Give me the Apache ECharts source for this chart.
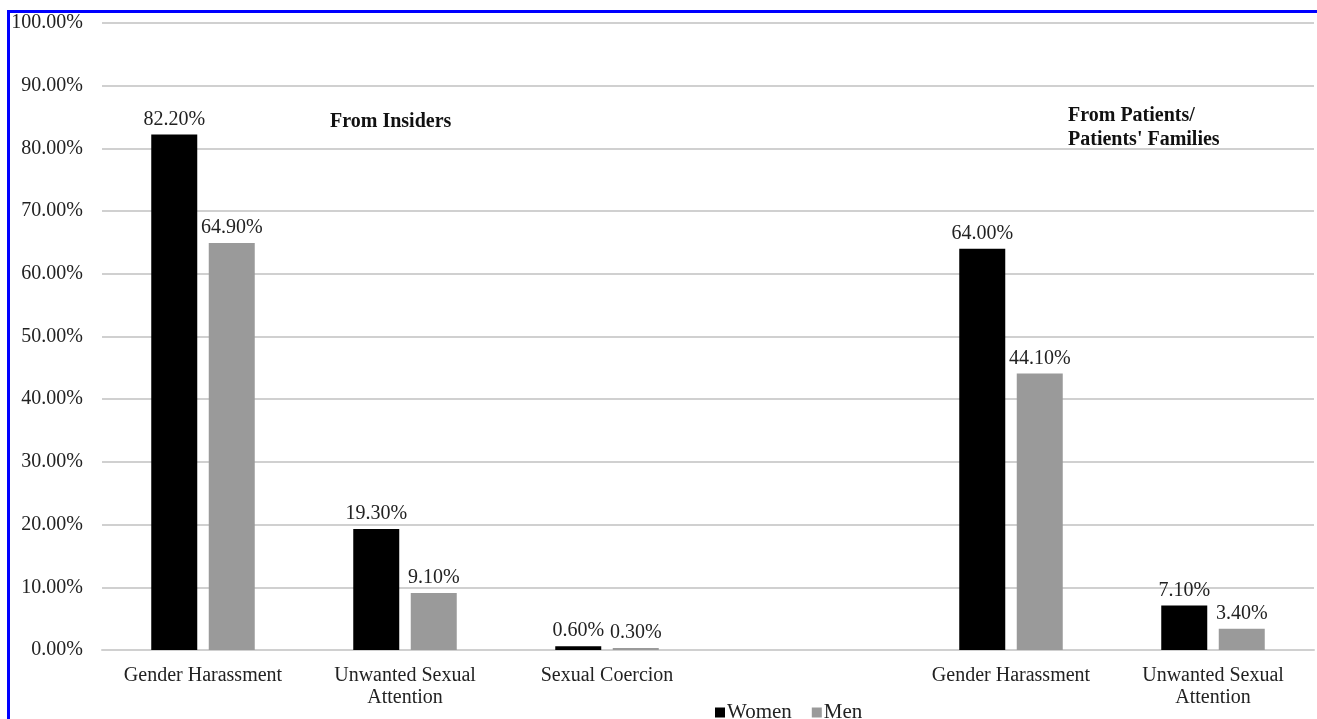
<!DOCTYPE html>
<html>
<head>
<meta charset="utf-8">
<script src="https://cdn.jsdelivr.net/npm/echarts@6/dist/echarts.min.js"></script>
<style>
html,body{margin:0;padding:0;background:#fff;}
#c{width:1317px;height:719px;}
</style>
</head>
<body>
<div id="c"></div>
<script>
var categories = ['Gender Harassment', 'Unwanted Sexual\nAttention', 'Sexual Coercion', '', 'Gender Harassment', 'Unwanted Sexual\nAttention'];
var women = [82.2, 19.3, 0.6, null, 64.0, 7.1];
var men = [64.9, 9.1, 0.3, null, 44.1, 3.4];
var seriesNames = ['Women', 'Men'];
var annotations = ['From Insiders', "From Patients/\nPatients' Families"];

var chart = echarts.init(document.getElementById('c'), null, {renderer: 'canvas'});
var font = '"Liberation Serif", "Times New Roman", serif';
var labelStyle = {
  show: true, position: 'top', distance: 5,
  fontFamily: font, fontSize: 20, color: '#222',
  formatter: function (p) { return p.value == null ? '' : p.value.toFixed(2) + '%'; }
};
chart.setOption({
  animation: false,
  backgroundColor: '#fff',
  grid: {left: 102, right: 3, top: 23, bottom: 69, containLabel: false},
  legend: {
    data: seriesNames, bottom: -9, left: 710,
    itemWidth: 10, itemHeight: 10, itemGap: 20,
    icon: 'rect',
    textStyle: {fontFamily: font, fontSize: 21, color: '#222', padding: [0, 0, 0, -3]}
  },
  xAxis: {
    type: 'category', data: categories,
    axisLine: {show: true, lineStyle: {color: '#d0d0d0', width: 2}},
    axisTick: {show: false},
    axisLabel: {fontFamily: font, fontSize: 20, color: '#222', margin: 15, lineHeight: 22, interval: 0}
  },
  yAxis: {
    type: 'value', min: 0, max: 100, interval: 10,
    axisLine: {show: false}, axisTick: {show: false},
    splitLine: {lineStyle: {color: '#d0d0d0', width: 2}},
    axisLabel: {fontFamily: font, fontSize: 20, color: '#222', margin: 19,
      formatter: function (v) { return v.toFixed(2) + '%'; }}
  },
  series: [
    {name: seriesNames[0], type: 'bar', data: women, barWidth: 46, barGap: '25%',
     itemStyle: {color: '#000'}, label: labelStyle},
    {name: seriesNames[1], type: 'bar', data: men, barWidth: 46,
     itemStyle: {color: '#9a9a9a'}, label: labelStyle}
  ],
  graphic: [
    {type: 'rect', left: 6, top: 9, shape: {width: 1330, height: 730},
     style: {fill: 'none', stroke: '#0000ff', lineWidth: 3}, silent: true},
    {type: 'text', left: 330, top: 112,
     style: {text: annotations[0], font: 'bold 20px ' + font, fill: '#111'}},
    {type: 'text', left: 1068, top: 104,
     style: {text: annotations[1], font: 'bold 20px ' + font, fill: '#111', lineHeight: 24}}
  ]
});
</script>
</body>
</html>
